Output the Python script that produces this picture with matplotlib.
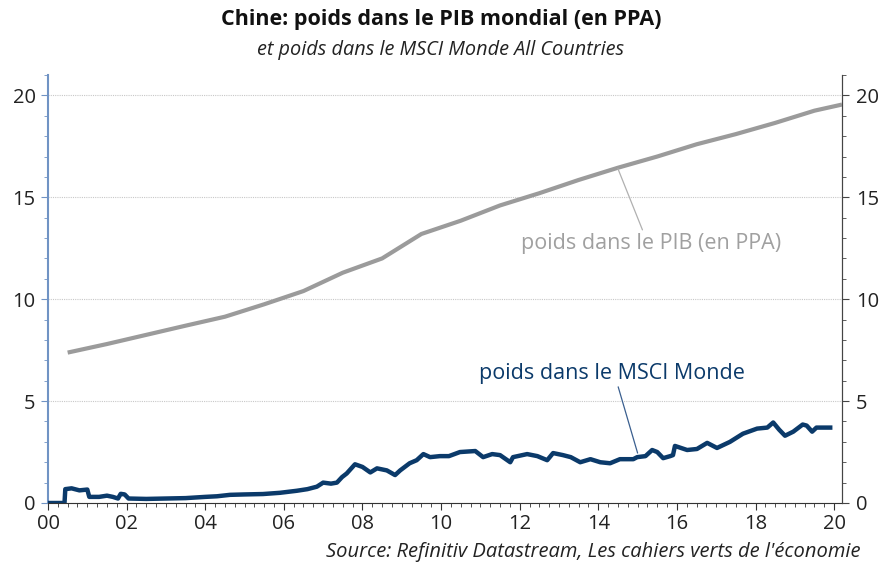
import matplotlib
matplotlib.use("Agg")
import matplotlib.pyplot as plt
from matplotlib.ticker import MultipleLocator

plt.rcParams['font.family'] = ['Open Sans', 'DejaVu Sans']

# GDP share (PPP), annual points (years since 2000, mid-year)
gdp_years = [0.5, 1.5, 2.5, 3.5, 4.5, 5.5, 6.5, 7.5, 8.5, 9.5, 10.5, 11.5, 12.5,
             13.5, 14.5, 15.5, 16.5, 17.5, 18.5, 19.5, 20.2]
gdp_vals = [7.38, 7.8, 8.25, 8.7, 9.14, 9.75, 10.4, 11.3, 12.0, 13.2, 13.85, 14.6, 15.2,
            15.85, 16.45, 17.0, 17.6, 18.1, 18.65, 19.25, 19.55]

# China weight in MSCI ACWI
msci_years = [0.0, 0.42, 0.44, 0.6, 0.8, 1.0, 1.05, 1.3, 1.5, 1.65, 1.78, 1.85, 1.95, 2.05,
              2.5, 3.0, 3.5, 4.0, 4.3, 4.63, 5.0, 5.47, 5.9, 6.33, 6.6, 6.84, 7.0,
              7.2, 7.35, 7.48, 7.6, 7.81, 8.0, 8.2, 8.37, 8.62, 8.83, 8.96, 9.2, 9.38,
              9.55, 9.72, 9.97, 10.2, 10.48, 10.87, 11.07, 11.3, 11.5, 11.76, 11.83,
              12.19, 12.45, 12.7, 12.85, 13.1, 13.3, 13.54, 13.8, 14.05, 14.3, 14.55,
              14.89, 14.99, 15.2, 15.37, 15.5, 15.65, 15.83, 15.9, 15.95, 16.26, 16.51,
              16.77, 17.02, 17.35, 17.68, 18.04, 18.3, 18.45, 18.6, 18.75, 18.96, 19.2,
              19.3, 19.44, 19.55, 19.65, 19.9]
msci_vals = [0.0, 0.0, 0.68, 0.72, 0.62, 0.66, 0.3, 0.3, 0.36, 0.3, 0.22, 0.45, 0.42, 0.22,
             0.2, 0.22, 0.24, 0.3, 0.33, 0.4, 0.42, 0.44, 0.5, 0.6, 0.68, 0.8, 1.0,
             0.95, 1.0, 1.27, 1.45, 1.9, 1.77, 1.5, 1.7, 1.6, 1.37, 1.6, 1.95, 2.1,
             2.4, 2.25, 2.3, 2.3, 2.5, 2.55, 2.25, 2.4, 2.35, 2.0, 2.25,
             2.4, 2.3, 2.1, 2.45, 2.35, 2.25, 2.0, 2.15, 2.0, 1.95, 2.15,
             2.15, 2.25, 2.3, 2.6, 2.5, 2.2, 2.3, 2.35, 2.8, 2.6, 2.65,
             2.95, 2.7, 3.0, 3.4, 3.65, 3.7, 3.95, 3.6, 3.3, 3.5, 3.85,
             3.8, 3.5, 3.7, 3.7, 3.7]

x_ticks = list(range(0, 21, 2))
x_labels = [f"{t:02d}" for t in x_ticks]
y_ticks = [0, 5, 10, 15, 20]

GRAY = '#9b9b9b'
NAVY = '#0b3a6a'
AXBLUE = '#7093c4'

fig = plt.figure(figsize=(8.82, 5.63), dpi=100)
ax = fig.add_axes([48/882, 1-503/563, (842-48)/882, (503-75)/563])

ax.plot(gdp_years, gdp_vals, color=GRAY, lw=3.0, solid_capstyle='butt', zorder=3)
ax.plot(msci_years, msci_vals, color=NAVY, lw=3.2, zorder=4)

ax.set_xlim(0, 20.2)
ax.set_ylim(0, 21)
ax.set_xticks(x_ticks)
ax.set_xticklabels(x_labels)
ax.xaxis.set_minor_locator(MultipleLocator(0.25))
ax.set_yticks(y_ticks)
ax.yaxis.set_minor_locator(MultipleLocator(1))
ax.grid(axis='y', which='major', color='#c8c8c8', ls=(0, (1, 1)), lw=0.8)
ax.set_axisbelow(True)

ax.spines['top'].set_visible(False)
ax.spines['left'].set_color(AXBLUE)
ax.spines['left'].set_linewidth(1.5)
ax.spines['bottom'].set_color('#333333')
ax.spines['right'].set_color('#444444')
ax.tick_params(axis='y', which='major', length=5, color=AXBLUE, labelsize=14.5, labelcolor='#222222', pad=4)
ax.tick_params(axis='y', which='minor', length=3, color=AXBLUE)
ax.tick_params(axis='x', which='major', length=5, color='#333333', labelsize=14.5, labelcolor='#222222', pad=3)
ax.tick_params(axis='x', which='minor', length=3, color='#333333')

ax2 = ax.twinx()
ax2.set_ylim(0, 21)
ax2.set_yticks(y_ticks)
ax2.yaxis.set_minor_locator(MultipleLocator(1))
for s in ['top', 'left', 'bottom']:
    ax2.spines[s].set_visible(False)
ax2.spines['right'].set_color('#444444')
ax2.tick_params(axis='y', which='major', length=5, color='#444444', labelsize=14.5, labelcolor='#222222', pad=5)
ax2.tick_params(axis='y', which='minor', length=3, color='#444444')

# annotations
ax.annotate('poids dans le PIB (en PPA)', xy=(14.5, 16.4), xytext=(15.35, 12.75),
            color='#a0a0a0', fontsize=15.5, ha='center', va='center',
            arrowprops=dict(arrowstyle='-', color='#b0b0b0', lw=0.9, shrinkA=0, shrinkB=0,
                            relpos=(0.47, 1.0)))
ax.annotate('poids dans le MSCI Monde', xy=(15.0, 2.45), xytext=(14.35, 6.35),
            color=NAVY, fontsize=15.5, ha='center', va='center',
            arrowprops=dict(arrowstyle='-', color='#3a5f8f', lw=0.9, shrinkA=0, shrinkB=0,
                            relpos=(0.52, 0.0)))

fig.text(0.5, 1-20/563, 'Chine: poids dans le PIB mondial (en PPA)', ha='center', va='center',
         fontsize=15.5, fontweight='bold', color='#111111')
fig.text(0.5, 1-50/563, 'et poids dans le MSCI Monde All Countries', ha='center', va='center',
         fontsize=14.3, style='italic', color='#222222')
fig.text(860/882, 1-552/563, "Source: Refinitiv Datastream, Les cahiers verts de l'économie",
         ha='right', va='center', fontsize=14.5, style='italic', color='#222222')

fig.savefig('out.png', dpi=100)
